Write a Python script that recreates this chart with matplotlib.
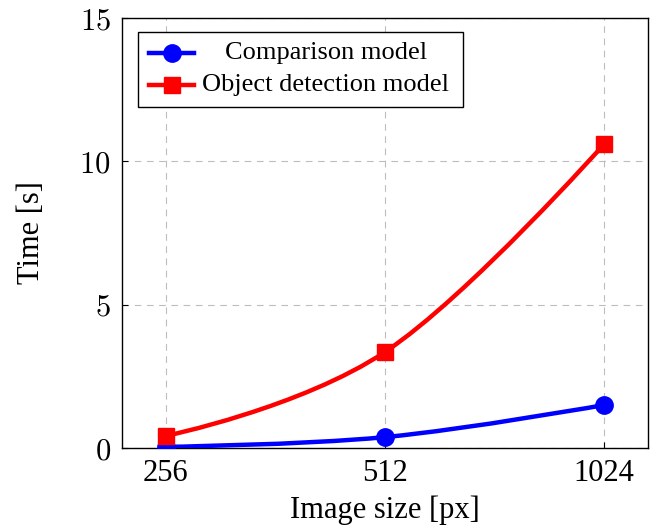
import matplotlib
matplotlib.use("Agg")
import matplotlib.pyplot as plt
from matplotlib.path import Path
from matplotlib.patches import PathPatch, Rectangle
from matplotlib.lines import Line2D
import numpy as np

plt.rcParams['font.family'] = ['Liberation Serif', 'DejaVu Serif']
plt.rcParams['mathtext.fontset'] = 'cm'

categories = ["256", "512", "1024"]
comparison = [0.04, 0.38, 1.5]
detection = [0.42, 3.35, 10.6]
yticks = [0, 5, 10, 15]
labels = ["Comparison model", "Object detection model"]

W, H = 657, 528
fig = plt.figure(figsize=(W / 100, H / 100), dpi=100)
ax = fig.add_axes([122 / W, 1 - 448 / H, 526 / W, 430 / H])

x = np.arange(len(categories), dtype=float)


def smooth_path(xs, ys, f=0.19):
    pts = np.column_stack([xs, ys])
    n = len(pts)
    verts = [pts[0]]
    codes = [Path.MOVETO]
    for i in range(n - 1):
        p0 = pts[i]
        p1 = pts[i + 1]
        if i == 0:
            c1 = p0
        else:
            c1 = p0 + f * (pts[i + 1] - pts[i - 1])
        if i + 1 == n - 1:
            c2 = p1
        else:
            c2 = p1 - f * (pts[i + 2] - pts[i])
        verts += [c1, c2, p1]
        codes += [Path.CURVE4] * 3
    return Path(verts, codes)


series = [(comparison, "#0000ff", "o", 12.5), (detection, "#ff0000", "s", 11.5)]
for vals, col, mk, ms in series:
    ax.add_patch(PathPatch(smooth_path(x, vals), facecolor="none", edgecolor=col,
                           lw=3.2, capstyle="round", joinstyle="round", zorder=3))
    ax.plot(x, vals, linestyle="none", marker=mk, color=col, markersize=ms, zorder=4)

ax.set_xlim(-0.2, 2.2)
ax.set_ylim(0, 15)
ax.set_xticks(x)
ax.set_xticklabels(categories, fontsize=22)
ax.set_yticks(yticks)
ax.set_yticklabels([f"${v}$" for v in yticks], fontsize=22)
ax.tick_params(direction="in", length=4, width=0.8, pad=8)
ax.grid(True, linestyle=(0, (6, 5)), color="#bdbdbd", lw=0.8)
ax.set_axisbelow(True)
for s in ax.spines.values():
    s.set_linewidth(1.0)
    s.set_color("black")

ax.set_xlabel("Image size [px]", fontsize=22, labelpad=5)
ax.set_ylabel("Time [s]", fontsize=22, labelpad=24)

# legend drawn manually (centered text like pgfplots)
def fx(px):
    return px / W

def fy(py):
    return 1 - py / H

box = Rectangle((fx(138), fy(107)), fx(463) - fx(138), fy(32) - fy(107),
                transform=fig.transFigure, facecolor="white", edgecolor="black",
                lw=1.0, zorder=10)
fig.add_artist(box)
rows = [53, 85]
for (vals, col, mk, ms), lab, ry in zip(series, labels, rows):
    fig.add_artist(Line2D([fx(149), fx(194)], [fy(ry), fy(ry)], color=col, lw=3.2,
                          transform=fig.transFigure, zorder=11))
    fig.add_artist(Line2D([fx(171.5)], [fy(ry)], color=col, marker=mk, markersize=ms,
                          linestyle="none", transform=fig.transFigure, zorder=12))
    fig.text(fx(326), fy(ry), lab, ha="center", va="center", fontsize=19, zorder=12)

fig.savefig("out.png", dpi=100)
